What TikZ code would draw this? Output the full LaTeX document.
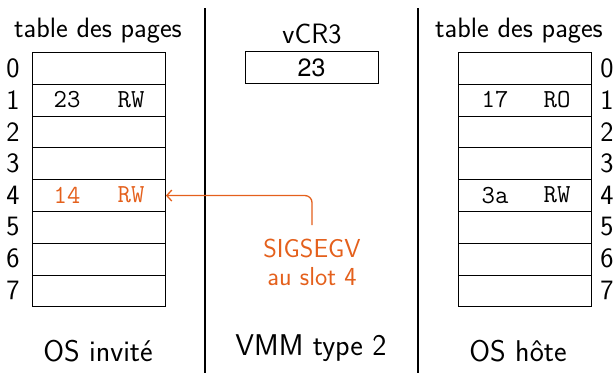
\documentclass[tikz,border=0pt]{standalone}
\usepackage{fontspec}
\usetikzlibrary{arrows.meta}
\newfontfamily\helvfont{TeX Gyre Heros}
\definecolor{sigorange}{HTML}{E4601C}
\begin{document}
\begin{tikzpicture}[x=1pt,y=-1pt,
  cell/.style={draw, line width=0.9pt, minimum width=133pt, minimum height=31.8pt, inner sep=0pt, anchor=north west},
  small/.style={font=\sffamily\fontsize{28}{32}\selectfont},
  big/.style={font=\sffamily\fontsize{30}{34}\selectfont},
  entry/.style={font=\ttfamily\fontsize{26}{30}\selectfont},
  sep/.style={line width=1.6pt}
]
\useasboundingbox (0,0) rectangle (616,373);
% separators
\coordinate (s1t) at (205,8); \coordinate (s1b) at (205,373);
\coordinate (s2t) at (418,8); \coordinate (s2b) at (418,373);
\draw[sep] (s1t) -- (s1b);
\draw[sep] (s2t) -- (s2b);
% left table
\node[small] (tl) at (98,31) {table des pages};
\foreach \i in {0,...,7} {
  \node[cell] (L\i) at (32,{52+31.8*\i}) {};
  \node[small] (Li\i) at (13,{68+31.8*\i}) {\i};
}
\node[entry] (L1a) at (67,{68+31.8*1}) {23};
\node[entry] (L1b) at (131,{68+31.8*1}) {RW};
\node[entry, text=sigorange] (L4a) at (67,{68+31.8*4}) {14};
\node[entry, text=sigorange] (L4b) at (131,{68+31.8*4}) {RW};
% right table
\node[small] (tr) at (519,31) {table des pages};
\foreach \i in {0,...,7} {
  \node[cell] (R\i) at (458,{52+31.8*\i}) {};
  \node[small] (Ri\i) at (607,{68+31.8*\i}) {\i};
}
\node[entry] (R1a) at (495,{68+31.8*1}) {17};
\node[entry] (R1b) at (557,{68+31.8*1}) {RO};
\node[entry] (R4a) at (495,{68+31.8*4}) {3a};
\node[entry] (R4b) at (557,{68+31.8*4}) {RW};
% middle
\node[small] (vt) at (312,34) {vCR3};
\node[draw, line width=0.9pt, minimum width=133pt, minimum height=31.5pt, inner sep=0pt, font=\helvfont\fontsize{25}{30}\selectfont] (vcr) at (311.5,67.5) {23};
\node[text=sigorange, align=center, font=\sffamily\fontsize{26}{28}\selectfont] (sig) at (312,262) {SIGSEGV\\au slot 4};
\coordinate (sigtop) at (312,225);
\draw[sigorange, line width=1.3pt, rounded corners=7pt, -{Straight Barb[length=5pt,width=11pt]}] (sigtop) |- (L4.east);
% bottom labels
\node[big] (b1) at (98,351) {OS invité};
\node[big] (b2) at (311,348) {VMM type 2};
\node[big] (b3) at (518,351) {OS hôte};
\end{tikzpicture}
\end{document}
